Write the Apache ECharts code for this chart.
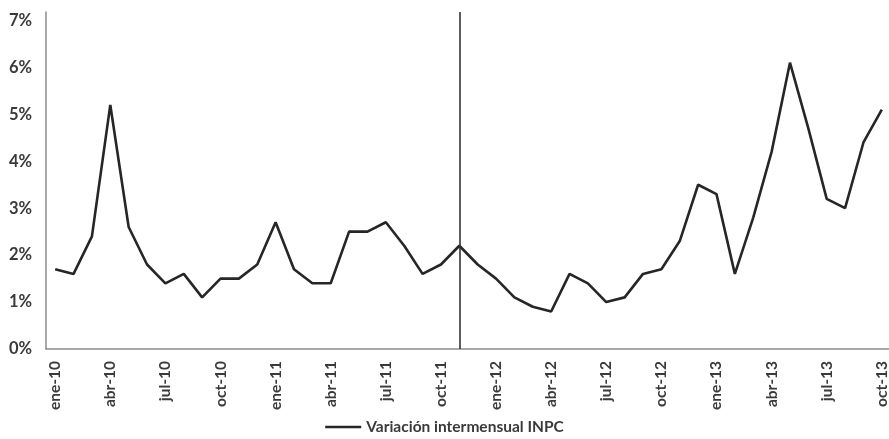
<!DOCTYPE html>
<html>
<head>
<meta charset="utf-8">
<script src="https://cdn.jsdelivr.net/npm/echarts@6/dist/echarts.min.js"></script>
<style>
  html, body { margin: 0; padding: 0; background: #fff; }
  #chart { width: 889px; height: 439px; }
</style>
</head>
<body>
<div id="chart"></div>
<script>
// Monthly year-on-year INPC change, Jan 2010 - Oct 2013 (percent)
const months = ['ene', 'feb', 'mar', 'abr', 'may', 'jun', 'jul', 'ago', 'sep', 'oct', 'nov', 'dic'];
const years = ['10', '11', '12', '13'];
const categories = [];
years.forEach(function (y) {
  months.forEach(function (m) { categories.push(m + '-' + y); });
});
categories.length = 46; // ene-10 .. oct-13

const inpcValues = [
  1.7, 1.6, 2.4, 5.2, 2.6, 1.8, 1.4, 1.6, 1.1, 1.5, 1.5, 1.8,
  2.7, 1.7, 1.4, 1.4, 2.5, 2.5, 2.7, 2.2, 1.6, 1.8, 2.2, 1.8,
  1.5, 1.1, 0.9, 0.8, 1.6, 1.4, 1.0, 1.1, 1.6, 1.7, 2.3, 3.5,
  3.3, 1.6, 2.8, 4.2, 6.1, 4.7, 3.2, 3.0, 4.4, 5.1
];
const seriesName = 'Variación intermensual INPC';
const markerMonth = 'nov-11';
const yTicks = [0, 1, 2, 3, 4, 5, 6, 7];

const chart = echarts.init(document.getElementById('chart'), null, { renderer: 'canvas' });
const labelFont = 'Lato, "Open Sans", sans-serif';

chart.setOption({
  animation: false,
  backgroundColor: '#ffffff',
  grid: {
    left: 46,
    right: -2,
    top: 12,
    bottom: 90,
    containLabel: false,
    outerBoundsMode: 'none'
  },
  xAxis: {
    type: 'category',
    data: categories,
    boundaryGap: true,
    axisLine: { show: true, lineStyle: { color: '#8c8c8c', width: 1.5 } },
    axisTick: { show: false },
    axisLabel: {
      interval: 2,
      rotate: 90,
      margin: 12,
      color: '#3a3a3a',
      fontFamily: labelFont,
      fontWeight: 'bold',
      fontSize: 15.5
    },
    splitLine: { show: false }
  },
  yAxis: {
    type: 'value',
    min: 0,
    max: 7.18,
    interval: 1,
    axisLine: { show: true, lineStyle: { color: '#8c8c8c', width: 1.5 } },
    axisTick: { show: false },
    splitLine: { show: false },
    axisLabel: {
      margin: 14,
      color: '#3a3a3a',
      fontFamily: labelFont,
      fontWeight: 'bold',
      fontSize: 16.5,
      formatter: function (v) {
        return yTicks.indexOf(v) >= 0 ? v + '%' : '';
      }
    }
  },
  legend: {
    bottom: -1,
    left: 'center',
    icon: 'rect',
    itemWidth: 36,
    itemHeight: 2.5,
    textStyle: {
      color: '#3a3a3a',
      fontFamily: labelFont,
      fontWeight: 'bold',
      fontSize: 15.5
    },
    data: [seriesName]
  },
  series: [{
    name: seriesName,
    type: 'line',
    data: inpcValues,
    symbol: 'none',
    lineStyle: { color: '#262626', width: 2.6 },
    itemStyle: { color: '#262626' },
    markLine: {
      silent: true,
      symbol: 'none',
      label: { show: false },
      lineStyle: { color: '#333333', width: 1.6, type: 'solid' },
      data: [{ xAxis: markerMonth }]
    }
  }]
});
</script>
</body>
</html>
